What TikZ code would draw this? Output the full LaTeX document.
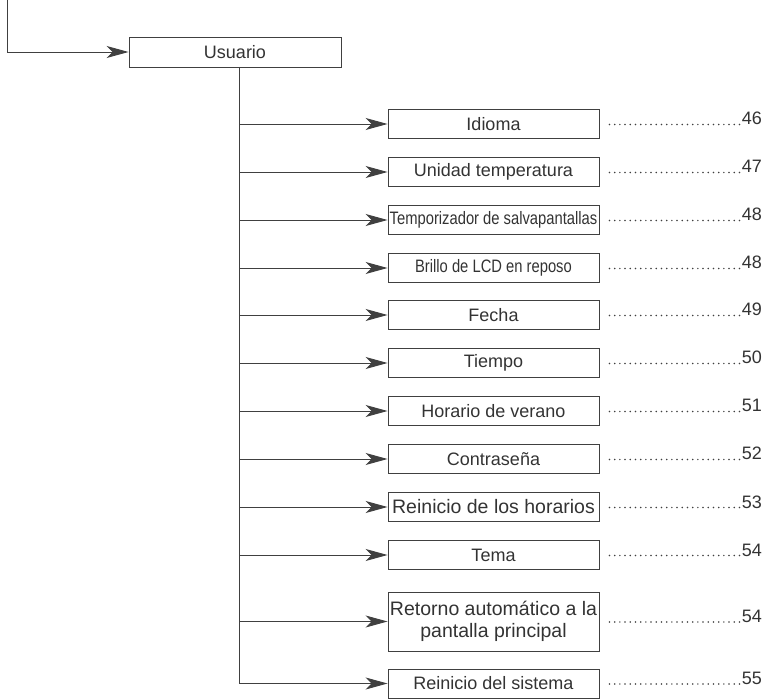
\documentclass[tikz,border=0pt]{standalone}
\usepackage{fontspec}
\setmainfont{Liberation Sans}
\newfontfamily\narrowfont[FakeStretch=0.82]{Liberation Sans}
\usetikzlibrary{arrows.meta}

\begin{document}
\begin{tikzpicture}[x=1pt,y=-1pt,
  menu/.style={draw=black!75,line width=0.9pt,minimum width=211pt,minimum height=29pt,
    inner sep=0pt,text=black!80,font=\fontsize{18}{22}\selectfont},
  pg/.style={anchor=base east,inner sep=0pt,text=black!80,font=\fontsize{18}{22}\selectfont},
  arr/.style={draw=black!75,line width=0.9pt,-{Stealth[length=22pt,width=12pt,inset=6pt]}},
  trunk/.style={draw=black!75,line width=0.9pt},
  leader/.style={draw=black!75,line width=1.7pt,line cap=round,dash pattern=on 0pt off 5.2pt}]
\useasboundingbox (0,0) rectangle (774,700);
% main entry
\node[menu,minimum width=212pt,minimum height=30pt] (n0) at (235,52) {Usuario};
\coordinate (s0) at (7,0);
\coordinate (t0) at (239,67);
% sub menu boxes
\node[menu] (n1) at (493.5,124) {Idioma};
\node[menu] (n2) at (493.5,172) {Unidad temperatura};
\node[menu,font=\fontsize{18}{22}\narrowfont] (n3) at (493.5,220) {Temporizador de salvapantallas};
\node[menu,font=\fontsize{18}{22}\narrowfont] (n4) at (493.5,268) {Brillo de LCD en reposo};
\node[menu] (n5) at (493.5,315) {Fecha};
\node[menu] (n6) at (493.5,363) {Tiempo};
\node[menu] (n7) at (493.5,411) {Horario de verano};
\node[menu] (n8) at (493.5,459) {Contraseña};
\node[menu,font=\fontsize{19.5}{22}\selectfont] (n9) at (493.5,507) {Reinicio de los horarios};
\node[menu] (n10) at (493.5,555) {Tema};
\node[menu,minimum height=59pt,align=center,font=\fontsize{19.5}{22}\selectfont] (n11) at (493.5,621.5) {Retorno automático a la\\pantalla principal};
\node[menu] (n12) at (493.5,683.5) {Reinicio del sistema};
% page numbers
\node[pg] (p1) at (762,125) {46};
\node[pg] (p2) at (762,173) {47};
\node[pg] (p3) at (762,221) {48};
\node[pg] (p4) at (762,269) {48};
\node[pg] (p5) at (762,316) {49};
\node[pg] (p6) at (762,364) {50};
\node[pg] (p7) at (762,412) {51};
\node[pg] (p8) at (762,460) {52};
\node[pg] (p9) at (762,508) {53};
\node[pg] (p10) at (762,556) {54};
\node[pg] (p11) at (762,622) {54};
\node[pg] (p12) at (762,684) {55};
% connectors
\draw[arr] (s0) |- (n0.west);
\draw[trunk] (t0) -- (t0 |- n12.west);
\draw[arr] (t0 |- n1.west) -- (n1.west);
\draw[arr] (t0 |- n2.west) -- (n2.west);
\draw[arr] (t0 |- n3.west) -- (n3.west);
\draw[arr] (t0 |- n4.west) -- (n4.west);
\draw[arr] (t0 |- n5.west) -- (n5.west);
\draw[arr] (t0 |- n6.west) -- (n6.west);
\draw[arr] (t0 |- n7.west) -- (n7.west);
\draw[arr] (t0 |- n8.west) -- (n8.west);
\draw[arr] (t0 |- n9.west) -- (n9.west);
\draw[arr] (t0 |- n10.west) -- (n10.west);
\draw[arr] (t0 |- n11.west) -- (n11.west);
\draw[arr] (t0 |- n12.west) -- (n12.west);
% dotted leaders
\draw[leader] ([xshift=10pt,yshift=-0.5pt]n1.east) -- ([yshift=-0.5pt]n1.east -| p1.west);
\draw[leader] ([xshift=10pt,yshift=-0.5pt]n2.east) -- ([yshift=-0.5pt]n2.east -| p2.west);
\draw[leader] ([xshift=10pt,yshift=-0.5pt]n3.east) -- ([yshift=-0.5pt]n3.east -| p3.west);
\draw[leader] ([xshift=10pt,yshift=-0.5pt]n4.east) -- ([yshift=-0.5pt]n4.east -| p4.west);
\draw[leader] ([xshift=10pt,yshift=-0.5pt]n5.east) -- ([yshift=-0.5pt]n5.east -| p5.west);
\draw[leader] ([xshift=10pt,yshift=-0.5pt]n6.east) -- ([yshift=-0.5pt]n6.east -| p6.west);
\draw[leader] ([xshift=10pt,yshift=-0.5pt]n7.east) -- ([yshift=-0.5pt]n7.east -| p7.west);
\draw[leader] ([xshift=10pt,yshift=-0.5pt]n8.east) -- ([yshift=-0.5pt]n8.east -| p8.west);
\draw[leader] ([xshift=10pt,yshift=-0.5pt]n9.east) -- ([yshift=-0.5pt]n9.east -| p9.west);
\draw[leader] ([xshift=10pt,yshift=-0.5pt]n10.east) -- ([yshift=-0.5pt]n10.east -| p10.west);
\draw[leader] ([xshift=10pt,yshift=-0.5pt]n11.east) -- ([yshift=-0.5pt]n11.east -| p11.west);
\draw[leader] ([xshift=10pt,yshift=-0.5pt]n12.east) -- ([yshift=-0.5pt]n12.east -| p12.west);
\end{tikzpicture}
\end{document}
